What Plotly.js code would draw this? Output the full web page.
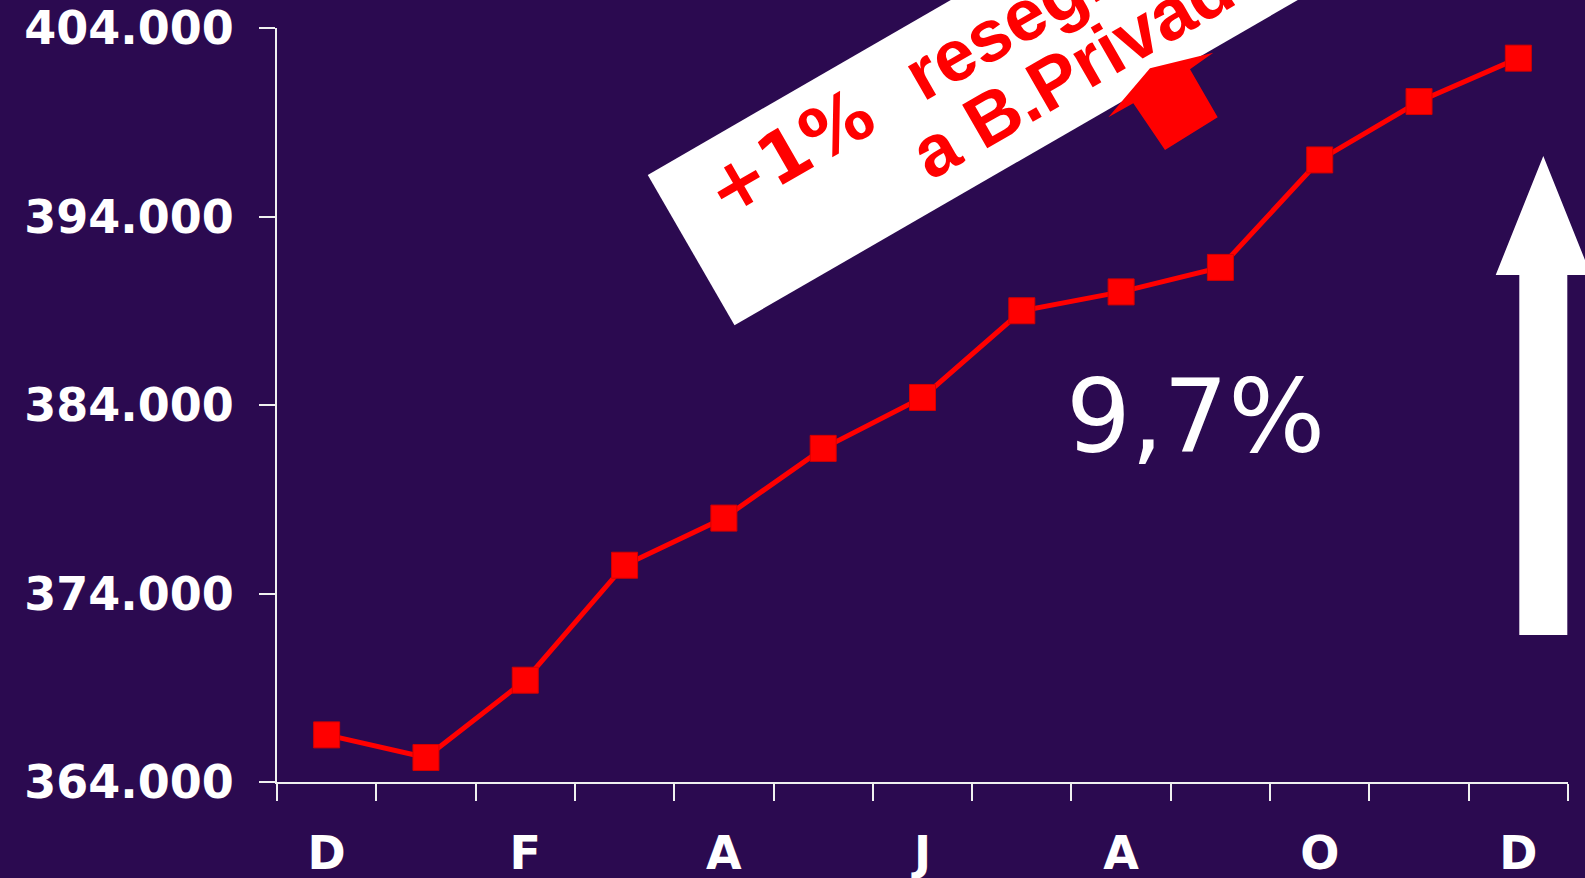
<!DOCTYPE html>
<html>
<head>
<meta charset="utf-8">
<script src="https://cdn.plot.ly/plotly-3.0.1.min.js"></script>
<style>
  html, body { margin: 0; padding: 0; background: #2b0a50; }
  #chart { width: 1585px; height: 878px; }
</style>
</head>
<body>
<div id="chart"></div>
<script>
// ---- data ----
const periods = ['2003-12','2004-01','2004-02','2004-03','2004-04','2004-05','2004-06',
                 '2004-07','2004-08','2004-09','2004-10','2004-11','2004-12'];
const monthLetters = ['D','','F','','A','','J','','A','','O','','D'];
const clients = [366500, 365300, 369400, 375500, 378000, 381700, 384400,
                 389000, 390000, 391300, 397000, 400100, 402400];
const yTicks = [364000, 374000, 384000, 394000, 404000];
const growthLabel = '9,7%';
const calloutPct = '+1%';
const calloutWord = 'reseg.';
const calloutLine2 = 'a B.Privada';

// ---- layout helpers (pixel -> paper) ----
const M = {l: 277, r: 17, t: 28, b: 96};
const W = 1585, H = 878;
const PW = W - M.l - M.r, PH = H - M.t - M.b;
const px = p => (p - M.l) / PW;
const py = p => (H - M.b - p) / PH;
const ang = 30 * Math.PI / 180;
const fromUN = (u, n) => [u * Math.cos(ang) + n * Math.sin(ang), -u * Math.sin(ang) + n * Math.cos(ang)];
const poly = pts => 'M' + pts.map(p => px(p[0]).toFixed(5) + ',' + py(p[1]).toFixed(5)).join(' L') + ' Z';

const boxPts = [fromUN(473.5, 475.4), fromUN(473.5, 648.9), fromUN(1400, 648.9), fromUN(1400, 475.4)];
const redArrowPts = [[1108.3,117.3],[1150,68.3],[1213.3,52.7],[1190,69.3],[1217.7,117.3],[1165,150],[1133.3,103.3]];
const whiteArrowPts = [[1543.3,156],[1591,275],[1567.3,275],[1567.3,635],[1519.3,635],[1519.3,275],[1495.7,275]];

const trace = {
  x: periods,
  y: clients,
  type: 'scatter',
  mode: 'lines+markers',
  line: {color: '#ff0000', width: 5},
  marker: {symbol: 'square', size: 26, color: '#ff0000', line: {color: '#d40000', width: 1}},
  hoverinfo: 'skip'
};

const tickFont = {family: 'DejaVu Sans', size: 46, color: '#ffffff', weight: 'bold'};
const redFont = {family: 'Liberation Sans', size: 73, color: '#ff0000', weight: 'bold'};

const layout = {
  width: W, height: H,
  margin: M,
  paper_bgcolor: '#2b0a50',
  plot_bgcolor: '#2b0a50',
  separators: ',.',
  showlegend: false,
  xaxis: {
    type: 'category',
    range: [-0.5, 12.5],
    tickmode: 'array',
    tickvals: periods,
    ticktext: monthLetters,
    tickson: 'boundaries',
    ticks: 'outside', ticklen: 17, tickwidth: 2, tickcolor: '#f0f0f0',
    showline: true, linecolor: '#f0f0f0', linewidth: 2,
    showgrid: false, zeroline: false,
    tickfont: tickFont,
    ticklabelstandoff: 30,
    fixedrange: true
  },
  yaxis: {
    range: [364000, 404000],
    tickmode: 'array',
    tickvals: yTicks,
    tickformat: ',d',
    ticks: 'outside', ticklen: 16, tickwidth: 2, tickcolor: '#f0f0f0',
    showline: true, linecolor: '#f0f0f0', linewidth: 2,
    showgrid: false, zeroline: false,
    tickfont: tickFont,
    ticklabelstandoff: 16,
    fixedrange: true
  },
  shapes: [
    {type: 'path', xref: 'paper', yref: 'paper', path: poly(boxPts),
     fillcolor: '#ffffff', line: {width: 0}, layer: 'above'},
    {type: 'path', xref: 'paper', yref: 'paper', path: poly(redArrowPts),
     fillcolor: '#ff0000', line: {width: 0}, layer: 'above'},
    {type: 'path', xref: 'paper', yref: 'paper', path: poly(whiteArrowPts),
     fillcolor: '#ffffff', line: {width: 0}, layer: 'above'}
  ],
  annotations: [
    {xref: 'paper', yref: 'paper', x: px(1195), y: py(416), text: growthLabel,
     showarrow: false, xanchor: 'center', yanchor: 'middle',
     font: {family: 'DejaVu Sans', size: 102, color: '#ffffff'}},
    {xref: 'paper', yref: 'paper', x: px(790), y: py(153), text: calloutPct,
     showarrow: false, xanchor: 'center', yanchor: 'middle', textangle: -30,
     font: {family: 'DejaVu Sans', size: 71, color: '#ff0000', weight: 'bold'}},
    {xref: 'paper', yref: 'paper', x: px(1003.2), y: py(26.6), text: calloutWord,
     showarrow: false, xanchor: 'center', yanchor: 'middle', textangle: -30,
     font: redFont},
    {xref: 'paper', yref: 'paper', x: px(1090), y: py(60), text: calloutLine2,
     showarrow: false, xanchor: 'center', yanchor: 'middle', textangle: -30,
     font: redFont}
  ]
};

Plotly.newPlot('chart', [trace], layout, {displayModeBar: false, staticPlot: true});
</script>
</body>
</html>
